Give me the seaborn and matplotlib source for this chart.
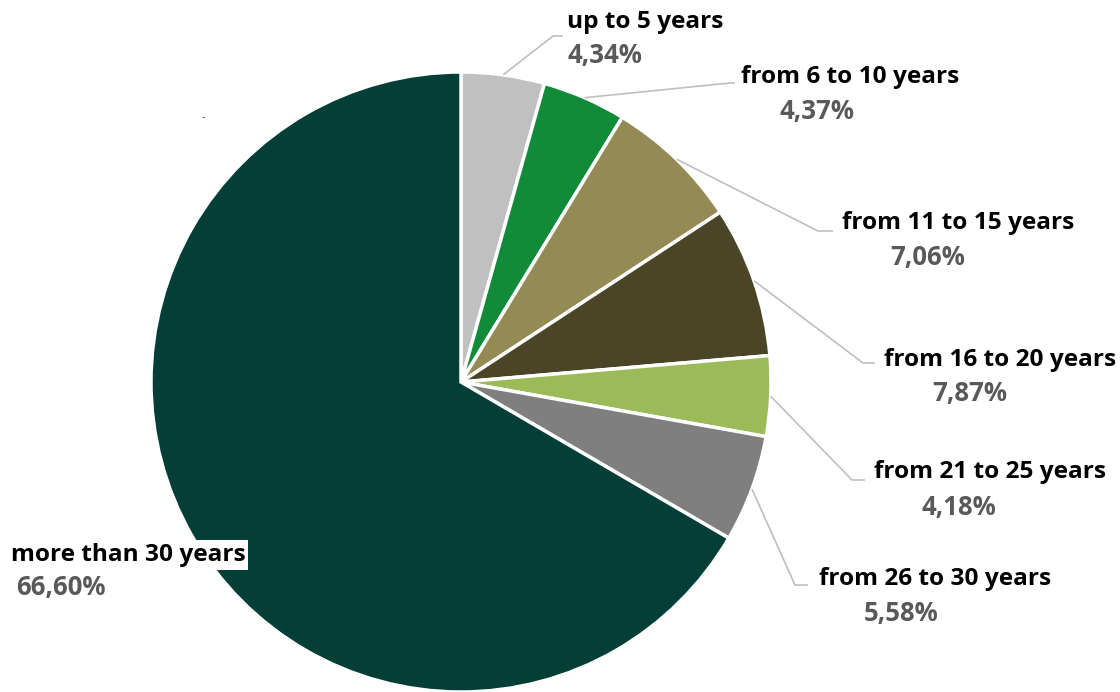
import matplotlib
matplotlib.use("Agg")
import matplotlib.pyplot as plt
import seaborn as sns
import numpy as np

# ---- data ----
categories = ["up to 5 years", "from 6 to 10 years", "from 11 to 15 years",
              "from 16 to 20 years", "from 21 to 25 years", "from 26 to 30 years",
              "more than 30 years"]
values = [4.34, 4.37, 7.06, 7.87, 4.18, 5.58, 66.60]
value_labels = ["4,34%", "4,37%", "7,06%", "7,87%", "4,18%", "5,58%", "66,60%"]
colors = ["#c0c0c0", "#118b3a", "#948a54", "#4a4527", "#9bbb59", "#7f7f7f", "#033f36"]

# ---- layout (pixel coordinates, origin top-left) ----
name_pos = [(567, 22), (741, 77), (842, 223), (884, 360), (874, 472), (819, 579), (11, 555)]
pct_pos = [(568, 56), (779, 111), (890, 257), (932, 394), (922, 507), (864, 613), (16, 588)]
# leader line elbow and end (None for no leader)
elbows = [((553, 36), (563, 36)), ((730, 83), (735, 83)), ((818, 231), (833, 231)),
          ((863, 363), (875, 363)), ((852, 480), (865, 480)), ((795, 585), (808, 585)), None]

sns.set_theme(style="white")
plt.rcParams['font.family'] = ['Open Sans', 'DejaVu Sans']

W, H = 1120, 692
fig = plt.figure(figsize=(11.2, 6.92), dpi=100)
ax = fig.add_axes([0, 0, 1, 1])
cx, cy, R = 461, H - 382, 310

wedges, _ = ax.pie(values, colors=colors, startangle=90, counterclock=False,
                   center=(cx, cy), radius=R, frame=True,
                   wedgeprops=dict(edgecolor="white", linewidth=2.5))
ax.set_xlim(0, W)
ax.set_ylim(0, H)
ax.set_aspect("equal")
ax.axis("off")

fs_name = 17.6
fs_pct = 18.5
for i, w in enumerate(wedges):
    # leader line
    if elbows[i] is not None:
        ang = np.deg2rad((w.theta1 + w.theta2) / 2)
        sx, sy = cx + R * np.cos(ang), cy + R * np.sin(ang)
        (ex, ey), (fx, fy) = elbows[i]
        ax.plot([sx, ex, fx], [sy, H - ey, H - fy], color="#bfbfbf", lw=1.2,
                solid_capstyle="butt", zorder=1)
    nx, ny = name_pos[i]
    px, py = pct_pos[i]
    kw = {}
    if elbows[i] is None:
        kw["bbox"] = dict(facecolor="white", edgecolor="none", pad=2)
    ax.text(nx, H - ny, categories[i], ha="left", va="center", fontsize=fs_name,
            fontweight="bold", color="#000000", zorder=5, **kw)
    ax.text(px, H - py, value_labels[i], ha="left", va="center", fontsize=fs_pct,
            fontweight="bold", color="#595959", zorder=5)

ax.text(203, H - 118, "-", ha="center", va="center", fontsize=7, color="#333333")

fig.savefig("out.png", dpi=100)
